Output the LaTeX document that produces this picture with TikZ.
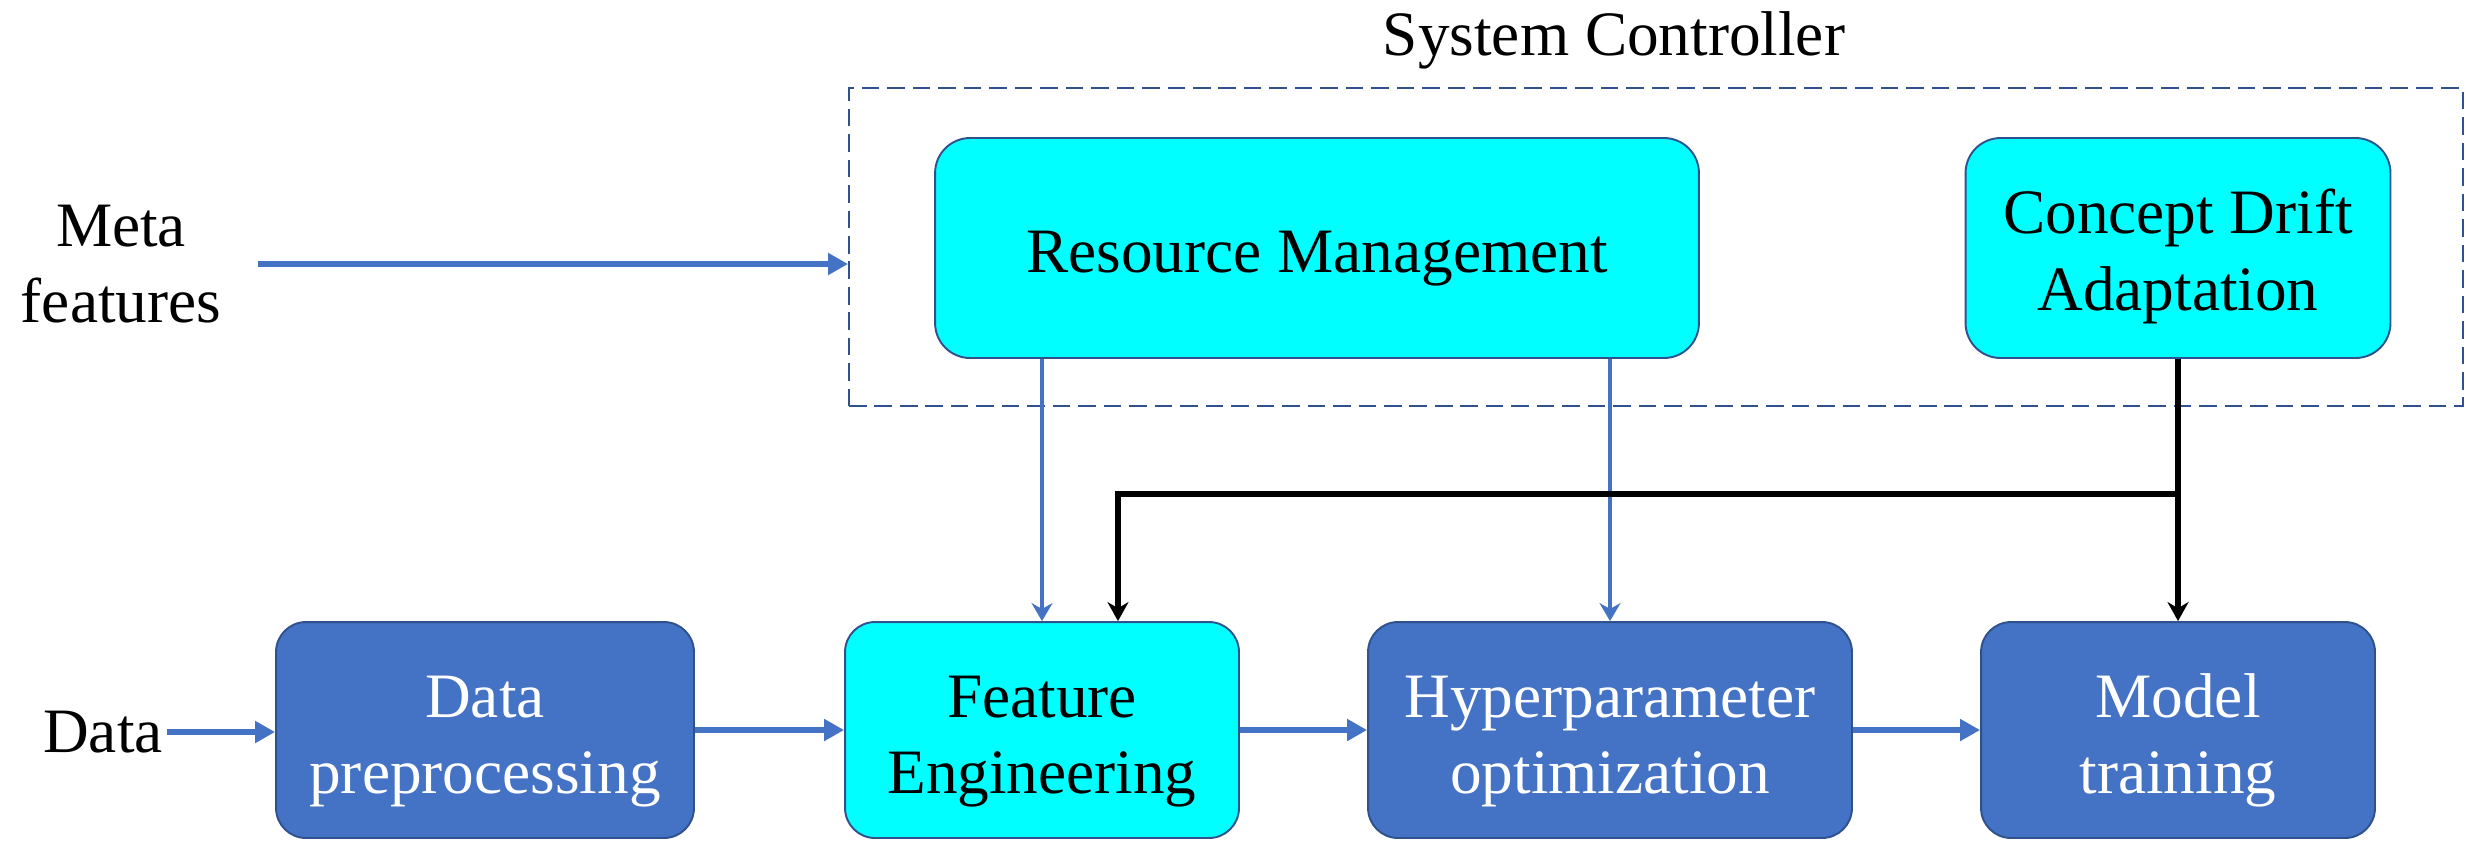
\documentclass[tikz,border=0pt]{standalone}
\usepackage{fontspec}
\setmainfont{Liberation Serif}
\usetikzlibrary{arrows.meta,fit}

\definecolor{boxblue}{RGB}{68,114,196}
\definecolor{edgeblue}{RGB}{47,82,143}
\definecolor{boxcyan}{RGB}{0,255,255}

\tikzset{
  lift/.style={execute at begin node={\rule{0pt}{#1}}},
  stage/.style={draw=edgeblue, line width=1.1pt, rounded corners=0.6cm, align=center,
    minimum height=4.32cm, inner sep=0pt, lift=2.82cm},
  darkstage/.style={stage, fill=boxblue, text=white},
  lightstage/.style={stage, fill=boxcyan, text=black},
  ctlbox/.style={draw=edgeblue, line width=1.1pt, rounded corners=0.7cm, align=center,
    minimum height=4.4cm, inner sep=0pt, fill=boxcyan},
  plaintext/.style={align=center, inner sep=0pt},
  ctlframe/.style={draw=edgeblue, line width=1.1pt, dash pattern=on 10pt off 4.5pt, inner sep=0pt},
  flow/.style={draw=boxblue, line width=3.5pt, -{Triangle[length=0.4cm,width=0.42cm]}},
  feed/.style={draw=boxblue, line width=2.4pt, -{Stealth[length=0.36cm,width=0.42cm]}},
  ctrl/.style={draw=black, line width=3.6pt, -{Stealth[length=0.38cm,width=0.42cm]}}
}

\begin{document}
\begin{tikzpicture}[x=0.02cm, y=-0.02cm, font=\fontsize{36}{43.5}\selectfont]
  \useasboundingbox (0,0) rectangle (2466,840);

  % system controller
  \node[plaintext, anchor=base] (sysname) at (1614,55) {System Controller};
  \coordinate (ctlnw) at (849,88);
  \coordinate (ctlse) at (2463,406);
  \node[ctlframe, fit=(ctlnw)(ctlse)] (ctl) {};
  \node[ctlbox, lift=1.26cm, minimum width=15.28cm] (rm) at (1317,248) {Resource Management};
  \node[ctlbox, lift=2.76cm, minimum width=8.5cm] (cda) at (2178,248) {Concept Drift\\Adaptation};

  % inputs
  \node[plaintext] (meta) at (121,264) {Meta\\features};
  \node[plaintext] (data) at (103,732) {Data};

  % pipeline
  \node[darkstage, minimum width=8.36cm] (dp) at (485,730) {Data\\preprocessing};
  \node[lightstage, minimum width=7.88cm] (fe) at (1042,730) {Feature\\Engineering};
  \node[darkstage, minimum width=9.68cm] (ho) at (1610,730) {Hyperparameter\\optimization};
  \node[darkstage, minimum width=7.88cm] (mt) at (2178,730) {Model\\training};

  \draw[flow, shorten <=0.74cm] (meta.east) -- (meta.east -| ctl.west);
  \draw[flow, shorten <=0.08cm] (data.east) -- (data.east -| dp.west);
  \draw[flow] (dp.east) -- (fe.west);
  \draw[flow] (fe.east) -- (ho.west);
  \draw[flow] (ho.east) -- (mt.west);

  \draw[feed] (rm.south -| fe.north) -- (fe.north);
  \draw[feed] (rm.south -| ho.north) -- (ho.north);

  \coordinate (jct) at (cda.south |- 0,494);
  \draw[ctrl] (cda.south) -- (mt.north);
  \draw[ctrl] (jct) -| ([xshift=1.52cm]fe.north);

\end{tikzpicture}
\end{document}
